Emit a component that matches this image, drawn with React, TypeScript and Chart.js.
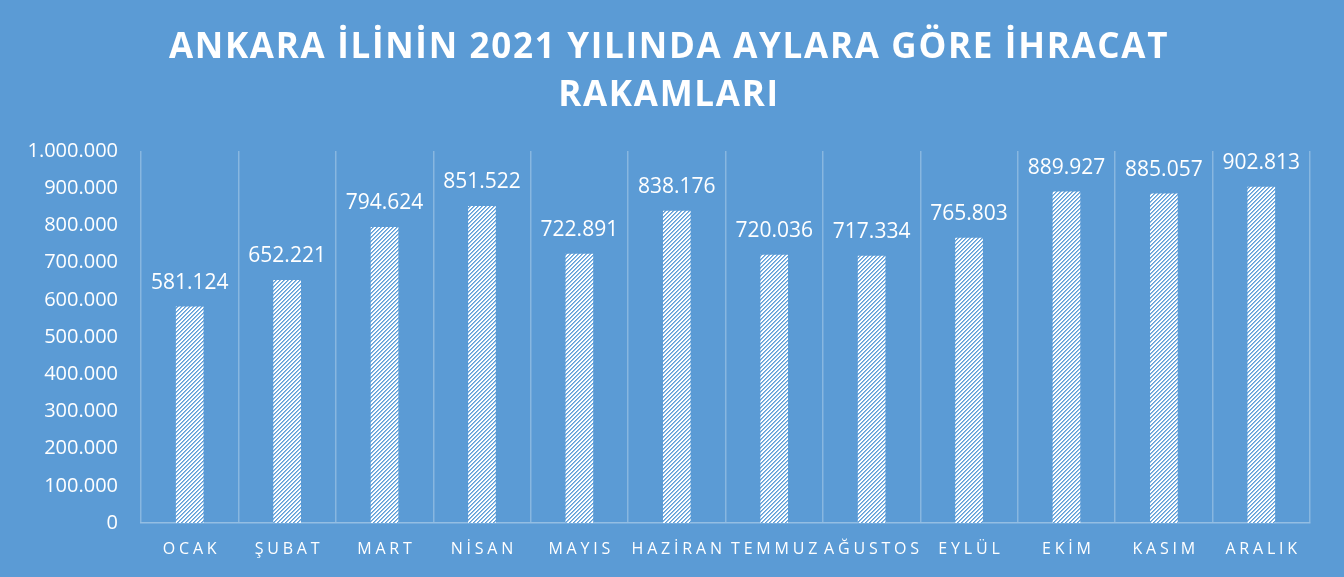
import React, { useEffect, useRef } from "react";
import { Chart, registerables } from "chart.js";

Chart.register(...registerables);

const titleLines = ["ANKARA İLİNİN 2021 YILINDA AYLARA GÖRE İHRACAT", "RAKAMLARI"];
const months = ["OCAK", "ŞUBAT", "MART", "NİSAN", "MAYIS", "HAZİRAN", "TEMMUZ", "AĞUSTOS", "EYLÜL", "EKİM", "KASIM", "ARALIK"];
const exports2021 = [581124, 652221, 794624, 851522, 722891, 838176, 720036, 717334, 765803, 889927, 885057, 902813];
const yMin = 0;
const yMax = 1000000;
const yStep = 100000;

const BG = "#5B9BD5";

const fmt = (v: number) => String(Math.round(v)).replace(/\B(?=(\d{3})+(?!\d))/g, ".");

function makePattern(ctx: CanvasRenderingContext2D) {
  const c = document.createElement("canvas");
  c.width = 4;
  c.height = 4;
  const p = c.getContext("2d")!;
  p.fillStyle = "#ffffff";
  p.fillRect(0, 0, 4, 4);
  for (let x = 0; x < 4; x++) {
    for (let y = 0; y < 4; y++) {
      const k = (x + y) % 4;
      if (k === 3) {
        p.fillStyle = "#5F9ED7";
        p.fillRect(x, y, 1, 1);
      } else if (k === 0) {
        p.fillStyle = "#8FBCE6";
        p.fillRect(x, y, 1, 1);
      }
    }
  }
  return ctx.createPattern(c, "repeat")!;
}

const overlayPlugin = {
  id: "overlay",
  afterDraw(chart: any) {
    const ctx: CanvasRenderingContext2D = chart.ctx;
    const xs = chart.scales.x;
    const ys = chart.scales.y;
    ctx.save();
    // title
    ctx.fillStyle = "#ffffff";
    ctx.font = "bold 35px 'Open Sans'";
    ctx.textAlign = "center";
    ctx.textBaseline = "middle";
    (ctx as any).letterSpacing = "1.7px";
    titleLines.forEach((t, i) => {
      ctx.fillText(t, chart.width / 2 - 3, 48 + i * 48);
    });
    // x labels
    ctx.font = "16px 'Open Sans'";
    (ctx as any).letterSpacing = "3.8px";
    ctx.textBaseline = "alphabetic";
    months.forEach((m, i) => {
      const x = xs.getPixelForValue(i);
      ctx.fillText(m, x + 1.9, 554);
    });
    // data labels
    ctx.font = "21px 'Open Sans'";
    (ctx as any).letterSpacing = "0px";
    const meta = chart.getDatasetMeta(0);
    meta.data.forEach((bar: any, i: number) => {
      ctx.fillText(fmt(exports2021[i]), bar.x, ys.getPixelForValue(exports2021[i]) - 18);
    });
    ctx.restore();
  },
};

export default function App() {
  const ref = useRef<HTMLCanvasElement>(null);
  useEffect(() => {
    document.body.style.margin = "0";
    document.body.style.background = BG;
    const canvas = ref.current!;
    const ctx = canvas.getContext("2d")!;
    const pattern = makePattern(ctx);
    const chart = new Chart(canvas, {
      type: "bar",
      data: {
        labels: months,
        datasets: [
          {
            data: exports2021,
            backgroundColor: pattern as any,
            borderWidth: 0,
            barThickness: 27,
          },
        ],
      },
      options: {
        animation: false,
        responsive: false,
        maintainAspectRatio: false,
        layout: { padding: { top: 151, right: 34, bottom: 54, left: 0 } },
        plugins: {
          legend: { display: false },
          title: { display: false },
          tooltip: { enabled: false },
        },
        scales: {
          x: {
            offset: true,
            grid: {
              display: true,
              offset: true,
              color: "rgba(255,255,255,0.28)",
              lineWidth: 1.5,
              drawTicks: false,
            },
            border: { display: true, color: "rgba(255,255,255,0.35)", width: 1.5 },
            ticks: { display: false },
          },
          y: {
            min: yMin,
            max: yMax,
            afterFit: (scale: any) => {
              scale.width = 141;
            },
            grid: { display: false, drawTicks: false },
            border: { display: false },
            ticks: {
              stepSize: yStep,
              color: "#ffffff",
              font: { family: "'Open Sans'", size: 20 },
              padding: 23,
              callback: (v: any) => fmt(Number(v)),
            },
          },
        },
      },
      plugins: [overlayPlugin],
    });
    return () => chart.destroy();
  }, []);
  return (
    <div style={{ width: 1344, height: 577, background: BG }}>
      <canvas ref={ref} width={1344} height={577} style={{ display: "block" }} />
    </div>
  );
}
